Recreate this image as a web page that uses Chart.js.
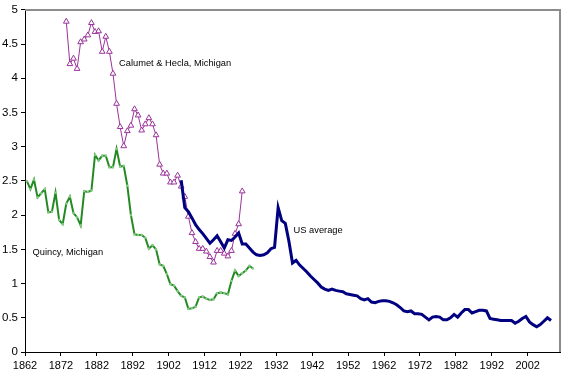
<!DOCTYPE html>
<html>
<head>
<meta charset="utf-8">
<script src="https://cdn.jsdelivr.net/npm/chart.js@4/dist/chart.umd.min.js"></script>
<style>
  body { margin: 0; background: #fff; }
  #grafico { display: block; }
</style>
</head>
<body>
<canvas id="grafico" width="565" height="376"></canvas>
<script>
// anos de inicio de cada serie
const quincyInicio = 1862;
const calumetInicio = 1873;
const usInicio = 1905;

const quincy = [2.50, 2.38, 2.52, 2.26, 2.32, 2.38, 2.04, 2.05, 2.33, 1.93,
    1.87, 2.17, 2.27, 2.03, 1.97, 1.85, 2.35, 2.34, 2.36, 2.88,
    2.80, 2.87, 2.87, 2.70, 2.70, 2.97, 2.71, 2.72, 2.43, 2.00,
    1.72, 1.71, 1.71, 1.67, 1.51, 1.56, 1.50, 1.28, 1.26, 1.14,
    0.99, 0.97, 0.89, 0.82, 0.80, 0.63, 0.64, 0.66, 0.80, 0.81,
    0.78, 0.76, 0.77, 0.86, 0.87, 0.86, 0.84, 1.04, 1.19, 1.11,
    1.15, 1.19, 1.26, 1.22];

const calumet = [4.83, 4.21, 4.29, 4.14, 4.53, 4.57, 4.63, 4.81, 4.68, 4.69,
    4.39, 4.61, 4.39, 4.07, 3.63, 3.29, 3.01, 3.23, 3.31, 3.55,
    3.46, 3.24, 3.33, 3.42, 3.33, 3.17, 2.74, 2.61, 2.61, 2.48,
    2.48, 2.58, 2.42, 2.27, 1.98, 1.74, 1.61, 1.51, 1.51, 1.47,
    1.39, 1.31, 1.48, 1.48, 1.44, 1.40, 1.48, 1.73, 1.87, 2.35];

const usMedia = [2.51, 2.11, 2.05, 1.96, 1.86, 1.79, 1.73, 1.66, 1.59, 1.64,
    1.70, 1.61, 1.52, 1.64, 1.63, 1.68, 1.74, 1.58, 1.58, 1.52,
    1.46, 1.42, 1.41, 1.42, 1.45, 1.51, 1.53, 2.11, 1.92, 1.88,
    1.62, 1.30, 1.34, 1.27, 1.22, 1.17, 1.11, 1.06, 1.01, 0.95,
    0.92, 0.90, 0.92, 0.90, 0.89, 0.88, 0.85, 0.84, 0.83, 0.82,
    0.78, 0.76, 0.78, 0.73, 0.72, 0.74, 0.75, 0.75, 0.74, 0.72,
    0.69, 0.65, 0.60, 0.59, 0.60, 0.56, 0.56, 0.55, 0.51, 0.47,
    0.51, 0.52, 0.51, 0.47, 0.47, 0.50, 0.55, 0.51, 0.57, 0.62,
    0.62, 0.57, 0.59, 0.61, 0.61, 0.60, 0.49, 0.48, 0.47, 0.46,
    0.46, 0.46, 0.46, 0.42, 0.45, 0.49, 0.52, 0.44, 0.40, 0.37,
    0.40, 0.45, 0.50, 0.46];

// rotulos do eixo x (a cada 10 anos)
const rotulosAnos = [1862, 1872, 1882, 1892, 1902, 1912, 1922, 1932, 1942, 1952, 1962, 1972, 1982, 1992, 2002];

// textos das series
const rotulos = [
    { texto: 'Calumet & Hecla, Michigan', ano: 1887.7, valor: 4.22 },
    { texto: 'Quincy, Michigan', ano: 1863.6, valor: 1.46 },
    { texto: 'US average', ano: 1936.3, valor: 1.78 }
];

function montarPontos(inicio, valores) {
    let pontos = [];
    for (i = 0; i < valores.length; i++) {
        pontos.push({ x: inicio + i, y: valores[i] });
    }
    return pontos;
}

const fonte = "'Liberation Sans', Arial, sans-serif";

const moldura = {
    id: 'moldura',
    beforeDatasetsDraw(chart) {
        const a = chart.chartArea;
        const ctx = chart.ctx;
        ctx.save();
        ctx.strokeStyle = '#8c8c8c';
        ctx.lineWidth = 2;
        ctx.beginPath();
        ctx.moveTo(a.left, a.top);
        ctx.lineTo(a.right, a.top);
        ctx.lineTo(a.right, a.bottom);
        ctx.stroke();
        ctx.restore();
    },
    afterDatasetsDraw(chart) {
        const ctx = chart.ctx;
        const sx = chart.scales.x, sy = chart.scales.y;
        ctx.save();
        ctx.fillStyle = '#000';
        ctx.font = '9.3px ' + fonte;
        ctx.textBaseline = 'middle';
        ctx.textAlign = 'left';
        rotulos.forEach(function (r) {
            ctx.fillText(r.texto, sx.getPixelForValue(r.ano), sy.getPixelForValue(r.valor));
        });
        ctx.restore();
    }
};

const config = {
    type: 'line',
    data: {
        datasets: [{
            label: 'US average',
            data: montarPontos(usInicio, usMedia),
            borderColor: '#000080',
            borderWidth: 3,
            pointRadius: 0,
            tension: 0
        }, {
            label: 'Calumet & Hecla, Michigan',
            data: montarPontos(calumetInicio, calumet),
            borderColor: '#993399',
            borderWidth: 1,
            pointStyle: 'triangle',
            pointRadius: 3.3,
            pointBorderWidth: 1,
            pointBorderColor: '#993399',
            pointBackgroundColor: '#ffffff',
            tension: 0
        }, {
            label: 'Quincy, Michigan',
            data: montarPontos(quincyInicio, quincy),
            borderColor: '#238a23',
            borderWidth: 2,
            pointStyle: 'rect',
            pointRadius: 1.2,
            pointBorderWidth: 0.5,
            pointBorderColor: '#8fd08f',
            pointBackgroundColor: '#8fd08f',
            tension: 0
        }]
    },
    options: {
        responsive: false,
        animation: false,
        layout: { padding: { top: 7, right: 3, left: 0, bottom: 0 } },
        plugins: { legend: { display: false }, tooltip: { enabled: false } },
        scales: {
            x: {
                type: 'linear',
                min: 1861.5,
                max: 2010.5,
                afterBuildTicks: function (scale) {
                    scale.ticks = rotulosAnos.map(function (a) { return { value: a - 0.5 }; });
                },
                afterFit: function (scale) { scale.height = 24; },
                grid: { display: true, drawOnChartArea: false, drawTicks: true, tickLength: 4, color: '#000' },
                border: { display: true, color: '#000', width: 1 },
                ticks: {
                    autoSkip: false,
                    maxRotation: 0,
                    padding: 3,
                    color: '#000',
                    font: { family: fonte, size: 11 },
                    callback: function (v) { return String(v + 0.5); }
                }
            },
            y: {
                min: 0,
                max: 5,
                afterFit: function (scale) { scale.width = 25; },
                grid: { display: true, drawOnChartArea: false, drawTicks: true, tickLength: 4, color: '#000' },
                border: { display: true, color: '#000', width: 1 },
                ticks: {
                    stepSize: 0.5,
                    padding: 3,
                    color: '#000',
                    font: { family: fonte, size: 11.5 },
                    callback: function (v) { return String(Math.round(v * 10) / 10); }
                }
            }
        }
    },
    plugins: [moldura]
};

var ctx = document.getElementById('grafico').getContext('2d');
let meuGrafico = new Chart(ctx, config);
</script>
</body>
</html>
